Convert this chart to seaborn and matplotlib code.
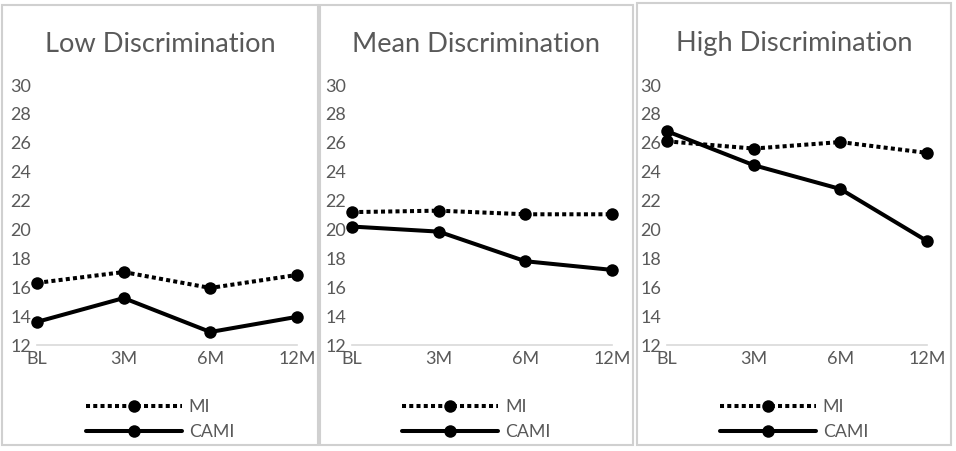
import matplotlib
matplotlib.use("Agg")
import matplotlib.pyplot as plt
from matplotlib.patches import Rectangle
from matplotlib.lines import Line2D
import pandas as pd
import seaborn as sns

# data
timepoints = ["BL", "3M", "6M", "12M"]
panel_titles = ["Low Discrimination", "Mean Discrimination", "High Discrimination"]
mi_low = [16.3, 17.05, 15.95, 16.85]
cami_low = [13.6, 15.25, 12.9, 13.95]
mi_mean = [21.2, 21.3, 21.05, 21.05]
cami_mean = [20.2, 19.85, 17.8, 17.2]
mi_high = [26.1, 25.6, 26.05, 25.3]
cami_high = [26.8, 24.45, 22.8, 19.2]
y_ticks = list(range(12, 31, 2))

sns.set_theme(style="white")
plt.rcParams["font.family"] = ["Lato", "DejaVu Sans"]

W, H = 956, 451
fig = plt.figure(figsize=(W / 100, H / 100), dpi=100)

text_color = "#595959"
grid_color = "#d9d9d9"
LW = 2.9
MS = 9

# panel boxes (pixel coords) and plot-area left edge
boxes = [(2, 5, 318, 445), (320, 5, 633, 445), (637, 3, 951, 445)]
plot_lefts = [37, 352, 667]
plot_w = 260
plot_top, plot_bottom = 85, 345

series = [(mi_low, cami_low), (mi_mean, cami_mean), (mi_high, cami_high)]

for i, (title, (mi, cami)) in enumerate(zip(panel_titles, series)):
    x0, y0, x1, y1 = boxes[i]
    fig.patches.append(Rectangle((x0 / W, 1 - y1 / H), (x1 - x0) / W, (y1 - y0) / H,
                                 transform=fig.transFigure, fill=False,
                                 edgecolor="#d0d0d0", linewidth=1.5, zorder=0))
    cx = (x0 + x1) / 2 / W
    fig.text(cx, 1 - 44 / H, title, ha="center", va="center",
             fontsize=19.6, color=text_color)

    ax = fig.add_axes([plot_lefts[i] / W, 1 - plot_bottom / H,
                       plot_w / W, (plot_bottom - plot_top) / H])
    df = pd.DataFrame({
        "time": timepoints * 2,
        "value": mi + cami,
        "group": ["MI"] * 4 + ["CAMI"] * 4,
    })
    sns.lineplot(data=df, x="time", y="value", hue="group", style="group",
                 palette={"MI": "black", "CAMI": "black"},
                 dashes={"MI": (1, 0.8), "CAMI": ""},
                 markers={"MI": "o", "CAMI": "o"},
                 markersize=MS, linewidth=LW, markeredgewidth=0,
                 sort=False, legend=False, ax=ax, clip_on=False)
    for ln in ax.lines:
        ln.set_dash_capstyle("butt")

    ax.set_xlim(0, 3)
    ax.set_ylim(12, 30)
    ax.set_yticks(y_ticks)
    ax.set_xlabel("")
    ax.set_ylabel("")
    for s in ["left", "right", "top"]:
        ax.spines[s].set_visible(False)
    ax.spines["bottom"].set_color(grid_color)
    ax.spines["bottom"].set_linewidth(1.2)
    ax.spines["bottom"].set_zorder(0)
    ax.tick_params(axis="both", length=0, labelsize=13, colors=text_color)
    ax.tick_params(axis="y", pad=4)
    ax.tick_params(axis="x", pad=4)
    ax.patch.set_alpha(0)

    handles = [
        Line2D([], [], color="black", linewidth=LW, dashes=(1, 0.8),
               dash_capstyle="butt", marker="o", markersize=MS, markeredgewidth=0),
        Line2D([], [], color="black", linewidth=LW, marker="o",
               markersize=MS, markeredgewidth=0),
    ]
    leg = ax.legend(handles, ["MI", "CAMI"], loc="upper center",
                    bbox_to_anchor=(cx, 1 - 383 / H), bbox_transform=fig.transFigure,
                    frameon=False, fontsize=12.8, handlelength=5.4,
                    labelspacing=0.5, handletextpad=0.4)
    for t in leg.get_texts():
        t.set_color(text_color)

fig.savefig("out.png", dpi=100, facecolor="white")
